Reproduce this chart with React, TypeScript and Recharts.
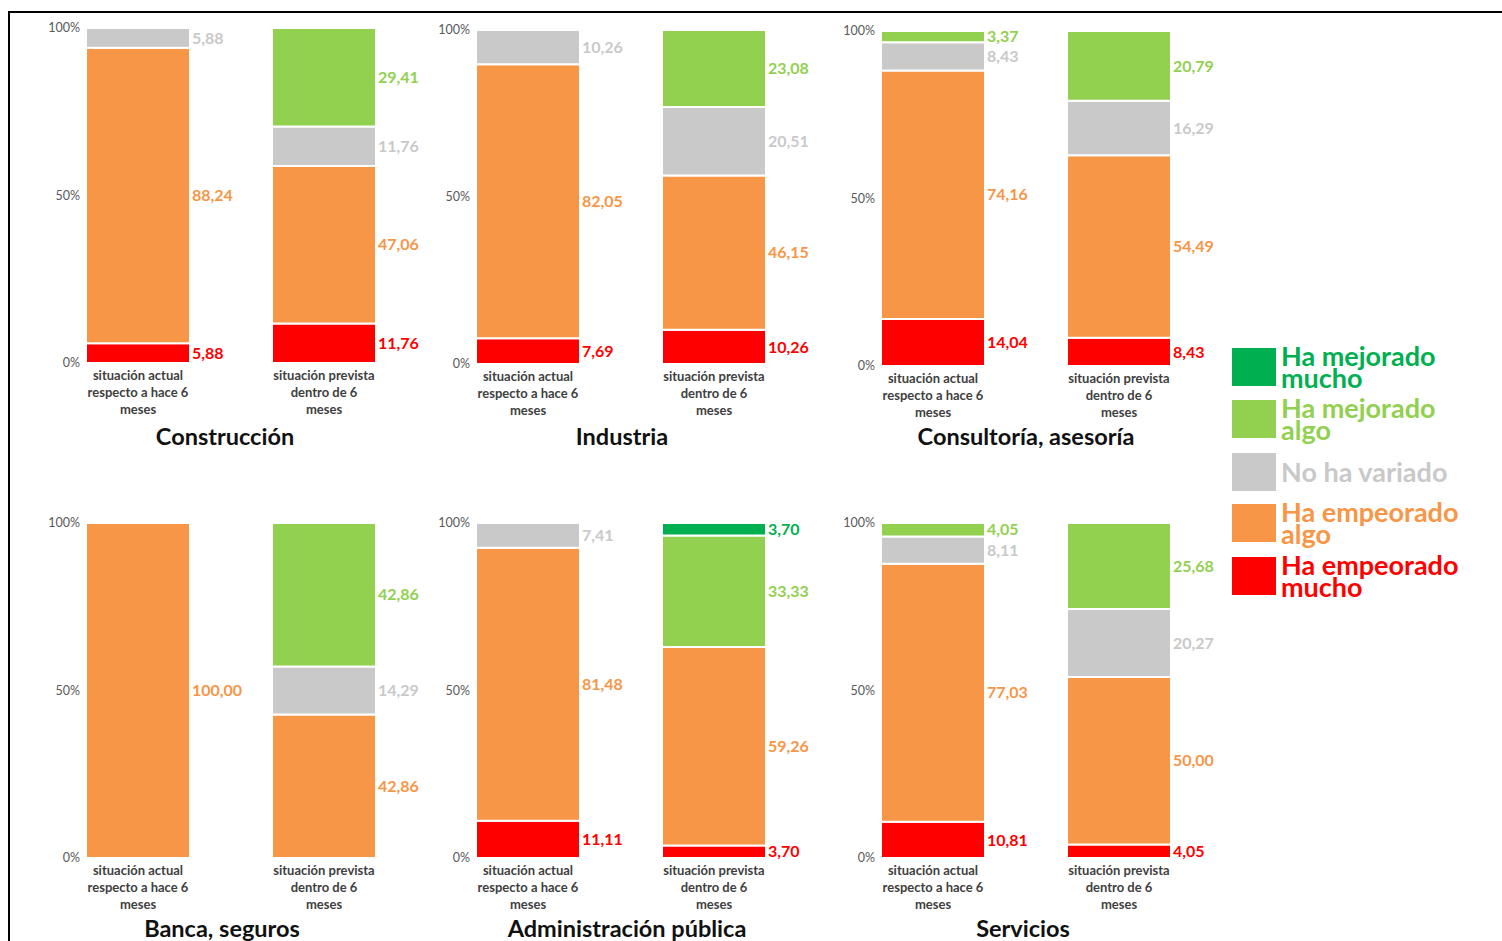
import React from 'react';
import { BarChart, Bar, XAxis, YAxis, LabelList } from 'recharts';

const categoryLines = [
  ['situación actual', 'respecto a hace 6', 'meses'],
  ['situación prevista', 'dentro de 6', 'meses'],
];
const categories = categoryLines.map((l) => l.join(' '));
const sectors = ['Construcción', 'Industria', 'Consultoría, asesoría', 'Banca, seguros', 'Administración pública', 'Servicios'];
const yTicks = [0, 50, 100];

// values per sector: [actual, prevista]
const empeoradoMucho = [[5.88, 11.76], [7.69, 10.26], [14.04, 8.43], [0, 0], [11.11, 3.7], [10.81, 4.05]];
const empeoradoAlgo = [[88.24, 47.06], [82.05, 46.15], [74.16, 54.49], [100, 42.86], [81.48, 59.26], [77.03, 50.0]];
const noVariado = [[5.88, 11.76], [10.26, 20.51], [8.43, 16.29], [0, 14.29], [7.41, 0], [8.11, 20.27]];
const mejoradoAlgo = [[0, 29.41], [0, 23.08], [3.37, 20.79], [0, 42.86], [0, 33.33], [4.05, 25.68]];
const mejoradoMucho = [[0, 0], [0, 0], [0, 0], [0, 0], [0, 3.7], [0, 0]];

const seriesKeys = ['em', 'ea', 'nv', 'ma', 'mm'];
const seriesNames = ['Ha empeorado mucho', 'Ha empeorado algo', 'No ha variado', 'Ha mejorado algo', 'Ha mejorado mucho'];
const seriesColors = ['#FF0000', '#F79646', '#C9C9C9', '#92D050', '#00B050'];
const seriesValues = [empeoradoMucho, empeoradoAlgo, noVariado, mejoradoAlgo, mejoradoMucho];
const legendLines = [
  ['Ha mejorado', 'mucho'],
  ['Ha mejorado', 'algo'],
  ['No ha variado'],
  ['Ha empeorado', 'algo'],
  ['Ha empeorado', 'mucho'],
];
const legendOrder = [4, 3, 2, 1, 0];

// layout
const FONT = 'Lato, "Open Sans", sans-serif';
const panelX = [0, 390, 795, 0, 390, 795];
const panelY = [0, 0, 0, 495, 495, 495];
const plotTop = [28, 30, 31, 28, 28, 28];
const plotBottom = [363, 364, 366, 363, 363, 363];
const titleCx = [225, 232, 231, 222, 237, 228];
const titleCy = [436, 436, 436, 928, 928, 928];
const AXIS_H = 60;

const fmt = (v: any) => (v ? Number(v).toFixed(2).replace('.', ',') : '');

const YTick = (props: any) => {
  const { x, y, payload } = props;
  return (
    <text x={x + 35} y={y + 4} textAnchor="end" fontSize={12.5} fill="#595959" fontFamily={FONT}>
      {payload.value}%
    </text>
  );
};

const XTick = (props: any) => {
  const { x, y, index } = props;
  const lines = categoryLines[index] || [];
  return (
    <text textAnchor="middle" fontSize={13} fontWeight={700} fill="#404040" fontFamily={FONT}>
      {lines.map((l, i) => (
        <tspan key={i} x={x} y={y + 17 + i * 17}>
          {l}
        </tspan>
      ))}
    </text>
  );
};

function Panel({ p }: { p: number }) {
  const data = categories.map((c, i) => {
    const row: any = { name: c };
    seriesKeys.forEach((k, s) => {
      row[k] = seriesValues[s][p][i];
    });
    return row;
  });
  return (
    <div style={{ position: 'absolute', left: panelX[p], top: panelY[p] }}>
      <BarChart
        width={430}
        height={plotBottom[p] + AXIS_H}
        data={data}
        margin={{ top: plotTop[p], right: 13, bottom: 0, left: 6 }}
        barSize={104}
      >
        <XAxis dataKey="name" axisLine={false} tickLine={false} tickSize={0} tickMargin={0} height={AXIS_H} tick={<XTick />} interval={0} />
        <YAxis domain={[0, 100]} ticks={yTicks} width={39} axisLine={false} tickLine={false} tickSize={0} tickMargin={0} tick={<YTick />} interval={0} />
        {seriesKeys.map((k, s) => (
          <Bar key={k} dataKey={k} stackId="a" fill={seriesColors[s]} stroke="#ffffff" strokeWidth={2} isAnimationActive={false}>
            <LabelList
              dataKey={k}
              position="right"
              offset={2}
              formatter={fmt}
              fill={seriesColors[s]}
              fontSize={16}
              fontWeight={700}
              fontFamily={FONT}
            />
          </Bar>
        ))}
      </BarChart>
      <div
        style={{
          position: 'absolute',
          left: titleCx[p] - 200,
          width: 400,
          top: titleCy[p] - panelY[p] - 15,
          textAlign: 'center',
          fontFamily: FONT,
          fontWeight: 700,
          fontSize: 23.5,
          lineHeight: '30px',
          color: '#111',
          whiteSpace: 'nowrap',
        }}
      >
        {sectors[p]}
      </div>
    </div>
  );
}

function LegendBox() {
  const tops = [348, 400, 453, 504, 557];
  return (
    <div>
      {legendOrder.map((s, i) => (
        <div key={s} style={{ position: 'absolute', left: 1232, top: tops[i], height: 38, display: 'flex', alignItems: 'center' }}>
          <div style={{ width: 44, height: 38, background: seriesColors[s] }} />
          <div
            style={{
              marginLeft: 5,
              fontFamily: FONT,
              fontWeight: 700,
              fontSize: 27,
              lineHeight: '22px',
              color: seriesColors[s],
              whiteSpace: 'nowrap',
            }}
          >
            {legendLines[i].map((l, j) => (
              <div key={j}>{l}</div>
            ))}
          </div>
        </div>
      ))}
    </div>
  );
}

export default function App() {
  return (
    <div style={{ position: 'absolute', left: 0, top: 0, width: 1502, height: 941, background: '#fff', overflow: 'hidden' }}>
      <div style={{ position: 'absolute', left: 8, top: 11, width: 1494, height: 2, background: '#000' }} />
      <div style={{ position: 'absolute', left: 8, top: 11, width: 2, height: 930, background: '#000' }} />
      {sectors.map((_, p) => (
        <Panel key={p} p={p} />
      ))}
      <LegendBox />
    </div>
  );
}
